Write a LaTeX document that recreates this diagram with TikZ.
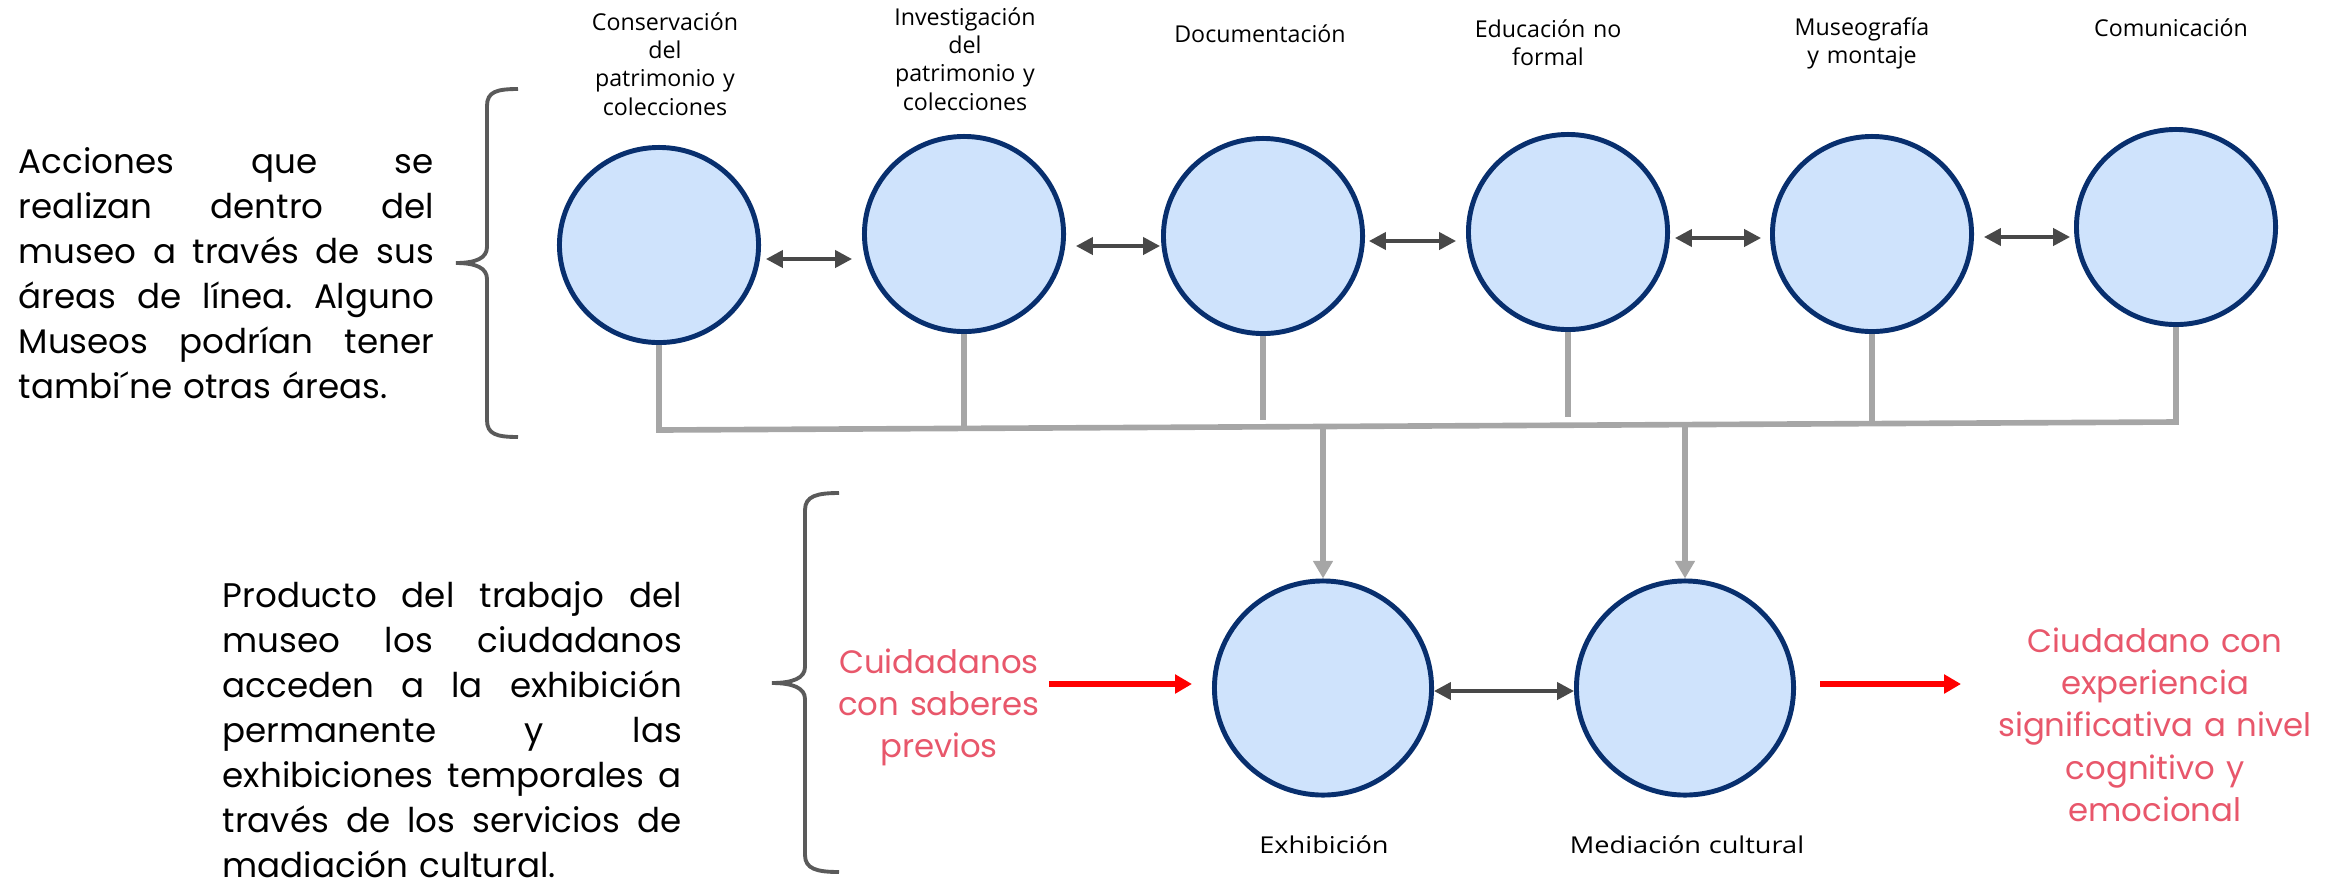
\documentclass[tikz,border=0pt]{standalone}
\usepackage{fontspec}
\setmainfont{Poppins}
\newfontfamily\lblfont{Open Sans}
\newfontfamily\lblwide[FakeStretch=1.17]{Open Sans}
\usetikzlibrary{arrows.meta,calc,shapes.geometric}
\definecolor{navy}{RGB}{8,47,110}
\definecolor{lightb}{RGB}{207,227,252}
\definecolor{darkg}{RGB}{72,72,72}
\definecolor{lgray}{RGB}{166,166,166}
\definecolor{braceg}{RGB}{90,90,90}
\definecolor{pinkred}{RGB}{232,87,107}
\begin{document}
\begin{tikzpicture}[x=0.01cm,y=-0.01cm,
 circ/.style={ellipse,draw=navy,fill=lightb,line width=1.4pt,inner sep=0pt,minimum width=1.99cm,minimum height=1.95cm},
 bigcirc/.style={circ,minimum width=2.17cm,minimum height=2.14cm},
 dbl/.style={darkg,line width=0.95pt,{Triangle[length=4.8pt,width=4.9pt]}-{Triangle[length=4.8pt,width=4.9pt]}},
 gl/.style={lgray,line width=1.6pt},
 garr/.style={gl,-{Triangle[length=5pt,width=5.4pt]}},
 rarr/.style={red,line width=1.6pt,-{Triangle[length=4.8pt,width=5.2pt]}},
 brace/.style={braceg,line width=1.1pt},
 lbl/.style={font=\lblfont\fontsize{6.6pt}{8.1pt}\selectfont,inner sep=0pt,anchor=base,text width=2.8cm,align=center},
 lblw/.style={lbl,font=\lblwide\fontsize{6.6pt}{8.1pt}\selectfont},
 bigtext/.style={font=\fontsize{9.7pt}{12.8pt}\selectfont,inner sep=0pt,anchor=base west,align=left},
 redtext/.style={pinkred,font=\fontsize{9.2pt}{12.05pt}\selectfont,inner sep=0pt,anchor=base,align=center}
]
\useasboundingbox (0,0) rectangle (2339,878);

% left texts
\node[bigtext,text width=4.15cm] (txa) at (18,173) {%
\makebox[4.15cm][l]{Acciones\hfill que\hfill se}\\
\makebox[4.15cm][l]{realizan\hfill dentro\hfill del}\\
\makebox[4.15cm][l]{museo\hfill a\hfill través\hfill de\hfill sus}\\
\makebox[4.15cm][l]{áreas\hfill de\hfill línea.\hfill Alguno}\\
\makebox[4.15cm][l]{Museos\hfill podrían\hfill tener}\\
tambi´ne otras áreas.};

\node[bigtext,text width=4.59cm] (txb) at (222,607) {%
\makebox[4.59cm][l]{Producto\hfill del\hfill trabajo\hfill del}\\
\makebox[4.59cm][l]{museo\hfill los\hfill ciudadanos}\\
\makebox[4.59cm][l]{acceden\hfill a\hfill la\hfill exhibición}\\
\makebox[4.59cm][l]{permanente\hfill y\hfill las}\\
\makebox[4.59cm][l]{exhibiciones\hfill temporales\hfill a}\\
\makebox[4.59cm][l]{través\hfill de\hfill los\hfill servicios\hfill de}\\
madiación cultural.};

% braces
\draw[brace] (518,89) .. controls (496,89) and (487,92) .. (487,106) -- (487,247)
  .. controls (487,258) and (476,263) .. (456,263)
  .. controls (476,263) and (487,268) .. (487,279) -- (487,420)
  .. controls (487,434) and (496,437) .. (518,437);
\draw[brace] (839,493) .. controls (817,493) and (805,496) .. (805,510) -- (805,667)
  .. controls (805,678) and (793,683) .. (772,683)
  .. controls (793,683) and (805,688) .. (805,699) -- (805,855)
  .. controls (805,869) and (817,872) .. (839,872);

% top ellipses
\node[circ] (e1) at (659,245) {};
\node[circ] (e2) at (964,234) {};
\node[circ] (e3) at (1263,236) {};
\node[circ] (e4) at (1568,232) {};
\node[circ] (e5) at (1872,234) {};
\node[circ] (e6) at (2176,227) {};

% top labels
\node[lbl] (l1) at (665,30) {Conservación\\del\\patrimonio y\\colecciones};
\node[lbl] (l2) at (965,25) {Investigación\\del\\patrimonio y\\colecciones};
\node[lbl] (l3) at (1260,42) {Documentación};
\node[lbl] (l4) at (1548,37) {Educación no\\formal};
\node[lbl] (l5) at (1862,35) {Museografía\\y montaje};
\node[lbl] (l6) at (2171,36) {Comunicación};

% double arrows
\draw[dbl] ($(e1.east)+(5,14)$) -- ($(e2.west)+(-10,25)$);
\draw[dbl] ($(e2.east)+(10,12)$) -- ($(e3.west)+(-1,10)$);
\draw[dbl] ($(e3.east)+(4,5)$) -- ($(e4.west)+(-10,9)$);
\draw[dbl] ($(e4.east)+(5,6)$) -- ($(e5.west)+(-9,4)$);
\draw[dbl] ($(e5.east)+(10,3)$) -- ($(e6.west)+(-4,10)$);

% bar
\coordinate (b1) at (659,430);
\coordinate (b2) at (964,428);
\coordinate (b3) at (1263,420);
\coordinate (b4) at (1568,417);
\coordinate (b5) at (1872,423);
\coordinate (b6) at (2176,422);
\coordinate (t1) at (1323,427);
\coordinate (t2) at (1685,425);
\draw[gl] (e1.south) -- (b1) -- (b6) -- (e6.south);
\draw[gl] (e2.south) -- (b2);
\draw[gl] (e3.south) -- (b3);
\draw[gl] (e4.south) -- (b4);
\draw[gl] (e5.south) -- (b5);

% lower ellipses
\node[bigcirc] (ex) at (1323,688) {};
\node[bigcirc] (me) at (1685,688) {};
\node[lblw] (lx) at (1324,853) {Exhibición};
\node[lblw] (lm) at (1687,853) {Mediación cultural};

\draw[garr] (t1) -- (ex.north);
\draw[garr] (t2) -- (me.north);
\draw[dbl] ($(ex.east)+(0,3)$) -- ($(me.west)+(0,3)$);

% red texts and arrows
\node[redtext,text width=3.2cm] (cs) at (939,673) {Cuidadanos\\con saberes\\previos};
\node[redtext,text width=3.8cm] (ce) at (2155,652) {Ciudadano con\\experiencia\\significativa a nivel\\cognitivo y\\emocional};
\coordinate (r1) at (1049,684);
\coordinate (r2) at (1961,684);
\draw[rarr] (r1) -- ($(ex.west)+(-20,-4)$);
\draw[rarr] ($(me.east)+(24,-4)$) -- (r2);
\end{tikzpicture}
\end{document}
